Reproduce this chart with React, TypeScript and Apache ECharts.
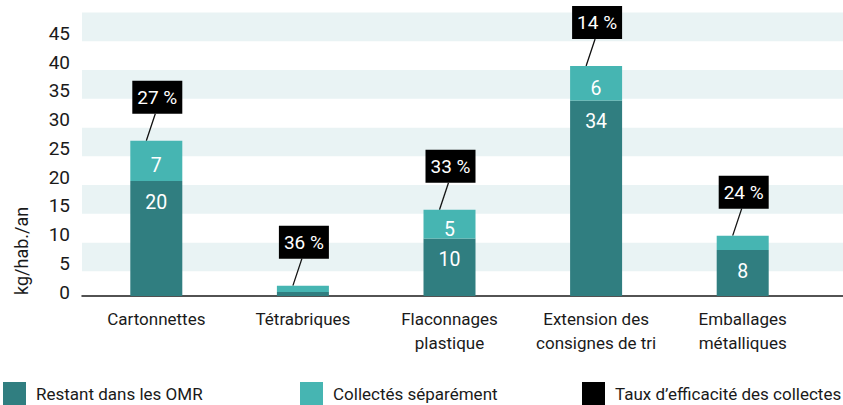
import React, { useEffect, useRef } from "react";
import * as echarts from "echarts";

const categories = [
  "Cartonnettes",
  "Tétrabriques",
  "Flaconnages\nplastique",
  "Extension des\nconsignes de tri",
  "Emballages\nmétalliques",
];
const restantOMR = [20, 0.7, 10, 34, 8];
const collectes = [7, 1.1, 5, 6, 2.5];
const tauxEfficacite = [27, 36, 33, 14, 24];
const yTicks = [0, 5, 10, 15, 20, 25, 30, 35, 40, 45];

const FONT = "Roboto, 'Liberation Sans', sans-serif";
const DARK = "#307e80";
const LIGHT = "#46b5b2";
const STRIPE = "#e9f3f4";
const TEXT = "#1a1a1a";

const SERIES_OMR = "Restant dans les OMR";
const SERIES_COLL = "Collectés séparément";
const SERIES_TAUX = "Taux d’efficacité des collectes";

export default function App() {
  const ref = useRef<HTMLDivElement>(null);

  useEffect(() => {
    if (!ref.current) return;
    const chart = echarts.init(ref.current, undefined, { renderer: "svg" });

    const totals = restantOMR.map((v, i) => v + collectes[i]);
    const customData = categories.map((_, i) => [i, totals[i], tauxEfficacite[i]]);

    const legendBase = {
      top: 382,
      padding: 0,
      itemWidth: 23,
      itemHeight: 23,
      textStyle: { fontSize: 17, color: TEXT, fontFamily: FONT, padding: [0, 0, 0, 5] },
    };

    const option: any = {
      animation: false,
      textStyle: { fontFamily: FONT },
      grid: [
        { left: 82, right: 0, top: 12.5, height: 287.5 },
        { left: 83, right: 27, top: 8.5, height: 287.5 },
      ],
      xAxis: [
        {
          gridIndex: 0,
          type: "value",
          min: 0,
          max: 1,
          offset: -4,
          axisLine: { show: true, onZero: false, lineStyle: { color: TEXT, width: 1.5 } },
          axisTick: { show: false },
          axisLabel: { show: false },
          splitLine: { show: false },
        },
        {
          gridIndex: 1,
          type: "category",
          data: categories,
          axisLine: { show: false },
          axisTick: { show: false },
          axisLabel: {
            margin: 11,
            fontSize: 17,
            lineHeight: 24,
            color: TEXT,
            fontFamily: FONT,
            interval: 0,
          },
        },
      ],
      yAxis: [
        {
          gridIndex: 0,
          type: "value",
          min: 0,
          max: 50,
          interval: 5,
          axisLine: { show: false },
          axisTick: { show: false },
          axisLabel: { show: false },
          splitLine: { show: false },
          splitArea: { show: true, areaStyle: { color: ["#ffffff", STRIPE] } },
        },
        {
          gridIndex: 1,
          type: "value",
          min: 0,
          max: 50,
          interval: 5,
          axisLine: { show: false },
          axisTick: { show: false },
          splitLine: { show: false },
          axisLabel: {
            margin: 13,
            fontSize: 19,
            color: TEXT,
            fontFamily: FONT,
            verticalAlign: "bottom",
            lineHeight: 8,
            formatter: (v: number) => (yTicks.includes(v) ? String(v) : ""),
          },
        },
      ],
      legend: [
        { ...legendBase, data: [{ name: SERIES_OMR, icon: "rect" }], left: 3 },
        { ...legendBase, data: [{ name: SERIES_COLL, icon: "rect" }], left: 300 },
        { ...legendBase, data: [{ name: SERIES_TAUX, icon: "rect" }], left: 582 },
      ],
      graphic: [
        {
          type: "text",
          x: 21,
          y: 295,
          rotation: Math.PI / 2,
          style: {
            text: "kg/hab./an",
            fontSize: 18,
            fontFamily: FONT,
            fill: TEXT,
            align: "left",
            verticalAlign: "middle",
          },
        },
      ],
      series: [
        {
          name: SERIES_OMR,
          type: "bar",
          xAxisIndex: 1,
          yAxisIndex: 1,
          stack: "total",
          barWidth: 52,
          data: restantOMR,
          itemStyle: { color: DARK },
          label: {
            show: true,
            position: "insideTop",
            distance: 11,
            color: "#fff",
            fontSize: 19.5,
            fontFamily: FONT,
            formatter: (p: any) => (p.value >= 3 ? String(p.value) : ""),
          },
        },
        {
          name: SERIES_COLL,
          type: "bar",
          xAxisIndex: 1,
          yAxisIndex: 1,
          stack: "total",
          barWidth: 52,
          data: collectes,
          itemStyle: { color: LIGHT },
          label: {
            show: true,
            position: "inside",
            offset: [0, 5],
            color: "#fff",
            fontSize: 19.5,
            fontFamily: FONT,
            formatter: (p: any) => (p.value >= 3 ? String(p.value) : ""),
          },
        },
        {
          name: SERIES_TAUX,
          type: "custom",
          xAxisIndex: 1,
          yAxisIndex: 1,
          itemStyle: { color: "#000" },
          encode: { x: 0, y: 1 },
          data: customData,
          renderItem: (params: any, api: any) => {
            const idx = api.value(0);
            const total = api.value(1);
            const pct = api.value(2);
            const pt = api.coord([idx, total]);
            const gap = 27;
            const boxH = 33;
            const boxW = 50;
            const cx = pt[0] + 1;
            const boxBottom = pt[1] - gap;
            return {
              type: "group",
              children: [
                {
                  type: "line",
                  shape: { x1: pt[0] - 10, y1: pt[1], x2: pt[0] - 1, y2: boxBottom },
                  style: { stroke: "#111", lineWidth: 1.3 },
                },
                {
                  type: "rect",
                  shape: { x: cx - boxW / 2, y: boxBottom - boxH, width: boxW, height: boxH },
                  style: { fill: "#000" },
                },
                {
                  type: "text",
                  style: {
                    text: pct + " %",
                    x: cx,
                    y: boxBottom - boxH / 2,
                    align: "center",
                    verticalAlign: "middle",
                    fill: "#fff",
                    fontSize: 19,
                    fontFamily: FONT,
                  },
                },
              ],
            };
          },
        },
      ],
    };

    chart.setOption(option);
    return () => chart.dispose();
  }, []);

  return (
    <div
      ref={ref}
      style={{ position: "fixed", left: 0, top: 0, width: 843, height: 405, background: "#fff" }}
    />
  );
}
